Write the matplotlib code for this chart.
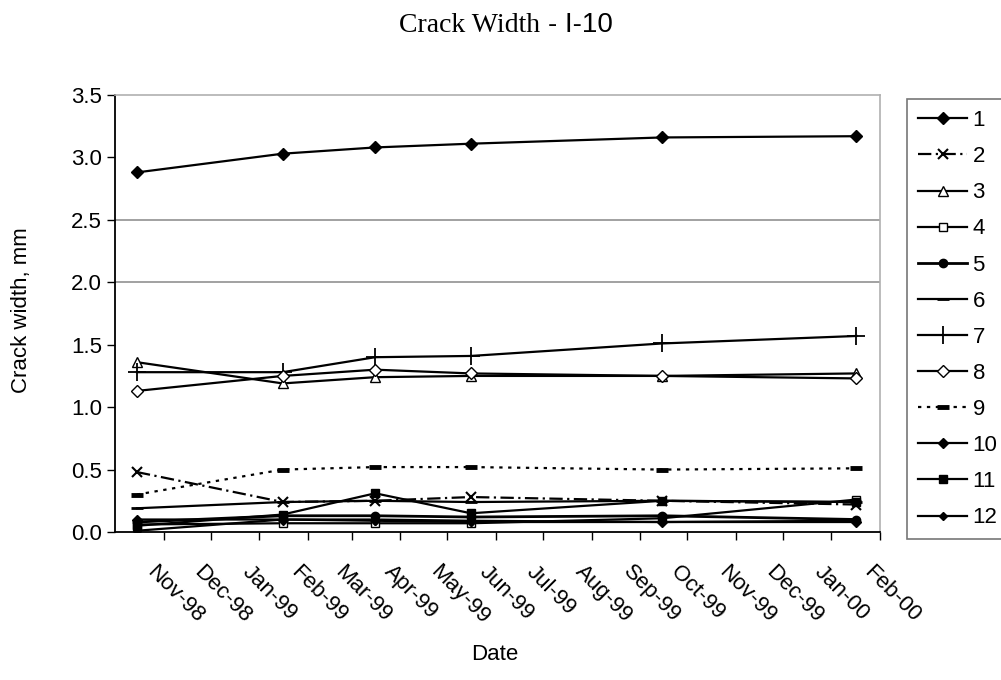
import numpy as np
import pandas as pd
import matplotlib
matplotlib.use("Agg")
import matplotlib.pyplot as plt
import matplotlib.dates as mdates
from matplotlib.transforms import ScaledTranslation

# survey dates and crack widths (mm)
dates = pd.to_datetime(['1998-10-15', '1999-01-16', '1999-03-16',
                        '1999-05-16', '1999-09-15', '2000-01-17'])
labels = ['1', '2', '3', '4', '5', '6', '7', '8', '9', '10', '11', '12']
c1 = [2.88, 3.03, 3.08, 3.11, 3.16, 3.17]
c2 = [0.48, 0.24, 0.25, 0.28, 0.25, 0.22]
c3 = [1.36, 1.19, 1.24, 1.25, 1.25, 1.27]
c4 = [0.06, 0.07, 0.07, 0.07, 0.11, 0.26]
c5 = [0.08, 0.13, 0.13, 0.12, 0.13, 0.10]
c6 = [0.19, 0.24, 0.25, 0.24, 0.25, 0.24]
c7 = [1.28, 1.28, 1.40, 1.41, 1.51, 1.57]
c8 = [1.13, 1.25, 1.30, 1.27, 1.25, 1.23]
c9 = [0.30, 0.50, 0.52, 0.52, 0.50, 0.51]
c10 = [0.10, 0.10, 0.10, 0.09, 0.08, 0.08]
c11 = [0.05, 0.14, 0.31, 0.15, 0.25, 0.24]
c12 = [0.01, 0.10, 0.09, 0.08, 0.08, 0.09]
series = [c1, c2, c3, c4, c5, c6, c7, c8, c9, c10, c11, c12]

ytick_vals = [0.0, 0.5, 1.0, 1.5, 2.0, 2.5, 3.0, 3.5]
month_ticks = pd.date_range('1998-11-01', '2000-02-01', freq='MS')

styles = [
    dict(ls='-', marker='D', ms=6, mfc='k'),
    dict(ls=(0, (6, 2, 1, 2)), marker='x', ms=7, mew=1.5),
    dict(ls='-', marker='^', ms=7, mfc='white'),
    dict(ls='-', marker='s', ms=6, mfc='white'),
    dict(ls='-', marker='o', ms=6, mfc='k', lw=2),
    dict(ls='-', marker='_', ms=8, mew=2),
    dict(ls='-', marker='+', ms=13, mew=1.3),
    dict(ls='-', marker='D', ms=6, mfc='white'),
    dict(ls=(0, (1.5, 2.5)), marker='_', ms=9, mew=3.5),
    dict(ls='-', marker='D', ms=5, mfc='k'),
    dict(ls='-', marker='s', ms=6, mfc='k'),
    dict(ls='-', marker='D', ms=4, mfc='k'),
]

plt.rcParams['font.family'] = ['Liberation Sans', 'DejaVu Sans']

fig = plt.figure(figsize=(10.01, 6.80), dpi=100)
ax = fig.add_axes([115/1001, 1-532/680, (880-115)/1001, (532-95)/680])

for y in [2.0, 2.5]:
    ax.axhline(y, color='#9a9a9a', lw=1.3, zorder=0)

for vals, lab, st in zip(series, labels, styles):
    kw = dict(color='k', mec='k', lw=1.6)
    kw.update(st)
    ax.plot(dates, vals, label=lab, **kw)

ax.set_xlim(pd.Timestamp('1998-10-01'), pd.Timestamp('2000-02-01'))
ax.set_ylim(0, 3.5)
ax.set_yticks(ytick_vals)
ax.set_yticklabels(['%.1f' % v for v in ytick_vals])
ax.set_xticks(month_ticks)
ax.xaxis.set_major_formatter(mdates.DateFormatter('%b-%y'))
ax.tick_params(direction='out', length=6, width=1, labelsize=16, colors='k')

for side in ['left', 'bottom']:
    ax.spines[side].set_color('k')
    ax.spines[side].set_linewidth(1.3)
for side in ['top', 'right']:
    ax.spines[side].set_color('#b0b0b0')
    ax.spines[side].set_linewidth(1.2)

offset = ScaledTranslation(-0.06, -0.16, fig.dpi_scale_trans)
for tick in ax.xaxis.get_major_ticks():
    lbl = tick.label1
    lbl.set_rotation(-45)
    lbl.set_ha('left')
    lbl.set_va('top')
    lbl.set_rotation_mode('anchor')
    lbl.set_transform(lbl.get_transform() + offset)

fig.text(22/1001, 1-310/680, 'Crack width, mm', rotation=90,
         ha='center', va='center', fontsize=16)
fig.text(495/1001, 1-655/680, 'Date', ha='center', va='center', fontsize=16)

fig.text(540/1001, 1-32/680, 'Crack Width', ha='right', va='baseline',
         fontsize=20, family=['Liberation Serif', 'DejaVu Serif'])
fig.text(548/1001, 1-32/680, '- I-10', ha='left', va='baseline', fontsize=20)

leg = ax.legend(loc='upper left', bbox_to_anchor=(907/1001, 1-99/680),
                bbox_transform=fig.transFigure, fontsize=16, frameon=True,
                fancybox=False, edgecolor='#555555', handlelength=2.2,
                handletextpad=0.25, labelspacing=0.68, borderpad=0.5,
                borderaxespad=0)
leg.get_frame().set_linewidth(1.2)

fig.savefig('out.png', dpi=100)
